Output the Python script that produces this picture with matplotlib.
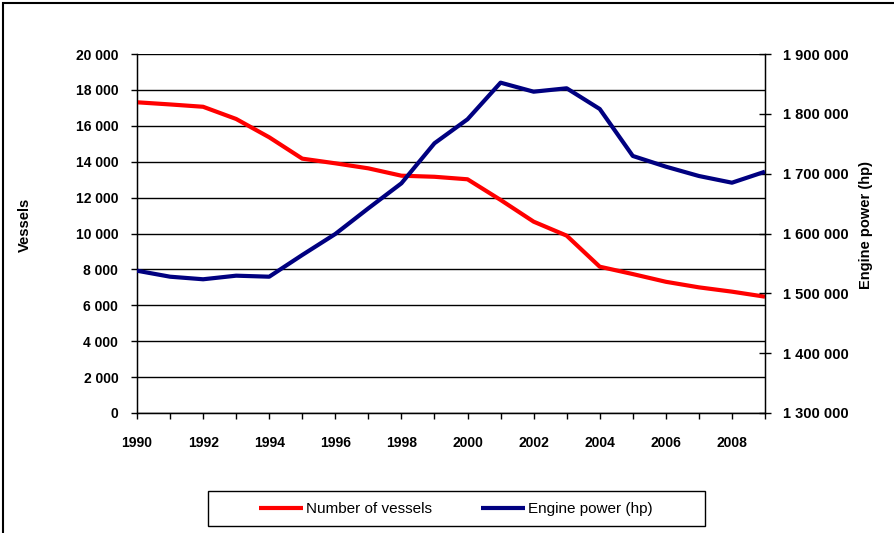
import matplotlib
matplotlib.use("Agg")
from matplotlib import pyplot as plt
from matplotlib.ticker import FuncFormatter, MultipleLocator
from matplotlib.patches import Rectangle

plt.rcParams['font.family'] = ['Liberation Sans', 'DejaVu Sans']

years = list(range(1990, 2010))
vessels = [17310, 17190, 17060, 16380, 15360, 14170, 13910, 13630, 13220, 13160,
           13020, 11870, 10660, 9880, 8150, 7740, 7310, 7000, 6760, 6480]
engine_power = [1537800, 1527800, 1523500, 1529500, 1527800, 1564100, 1599200,
                1642100, 1683900, 1750800, 1790900, 1852100, 1837000, 1842700,
                1808100, 1729600, 1711700, 1696100, 1684900, 1703300]
x_labels = [str(y) for y in range(1990, 2010, 2)]


def space_thousands(v, pos):
    return "{:,.0f}".format(v).replace(",", " ")


fig = plt.figure(figsize=(8.94, 5.33), dpi=100)
ax = fig.add_axes([137 / 894, 1 - 413 / 533, 628 / 894, 359 / 533])
ax2 = ax.twinx()

ax.plot(years, vessels, color="#ff0000", lw=3, solid_capstyle="butt",
        label="Number of vessels", zorder=3)
ax2.plot(years, engine_power, color="#000080", lw=3, solid_capstyle="butt",
         label="Engine power (hp)", zorder=3)

ax.set_xlim(1990, 2009)
ax.set_ylim(0, 20000)
ax2.set_ylim(1300000, 1900000)

ax.set_xticks(list(range(1990, 2010, 2)))
ax.set_xticklabels(x_labels, fontweight="bold", fontsize=10)
ax.xaxis.set_minor_locator(MultipleLocator(1))
ax.tick_params(axis="x", which="both", direction="out", length=4, width=1, pad=12.5)

ax.yaxis.set_major_locator(MultipleLocator(2000))
ax.yaxis.set_major_formatter(FuncFormatter(space_thousands))
ax.tick_params(axis="y", direction="out", length=4, width=1, labelsize=10, pad=9.5)
for t in ax.get_yticklabels():
    t.set_fontweight("bold")

ax2.yaxis.set_major_locator(MultipleLocator(100000))
ax2.yaxis.set_major_formatter(FuncFormatter(space_thousands))
ax2.tick_params(axis="y", direction="inout", length=8, width=1, labelsize=10.5, pad=9)
for t in ax2.get_yticklabels():
    t.set_fontweight("bold")

ax.grid(axis="y", color="black", lw=1)
ax.set_axisbelow(True)
ax.spines["top"].set_visible(False)
ax2.spines["top"].set_visible(False)
for s in ["left", "bottom"]:
    ax.spines[s].set_linewidth(1)
ax2.spines["right"].set_linewidth(1)

fig.text(25 / 894, 1 - 225 / 533, "Vessels", rotation=90, ha="center",
         va="center", fontsize=10.5, fontweight="bold")
fig.text(866 / 894, 1 - 225 / 533, "Engine power (hp)", rotation=90,
         ha="center", va="center", fontsize=10.5, fontweight="bold")

h1, l1 = ax.get_legend_handles_labels()
h2, l2 = ax2.get_legend_handles_labels()
leg = fig.legend(h1 + h2, l1 + l2, loc="center",
                 bbox_to_anchor=(456 / 894, 1 - 509 / 533), ncol=2,
                 fontsize=11, frameon=False,
                 handlelength=2.9, handletextpad=0.2, columnspacing=3.2)

fig.patches.append(Rectangle((208 / 894, 1 - 526 / 533), 497 / 894, 35 / 533,
                             transform=fig.transFigure, fill=False,
                             edgecolor="black", lw=1))
fig.patches.append(Rectangle((3 / 894, -0.1), 1.2, 1 - 3 / 533 + 0.1,
                             transform=fig.transFigure, fill=False,
                             edgecolor="black", lw=1.5))

fig.savefig("out.png", dpi=100)
